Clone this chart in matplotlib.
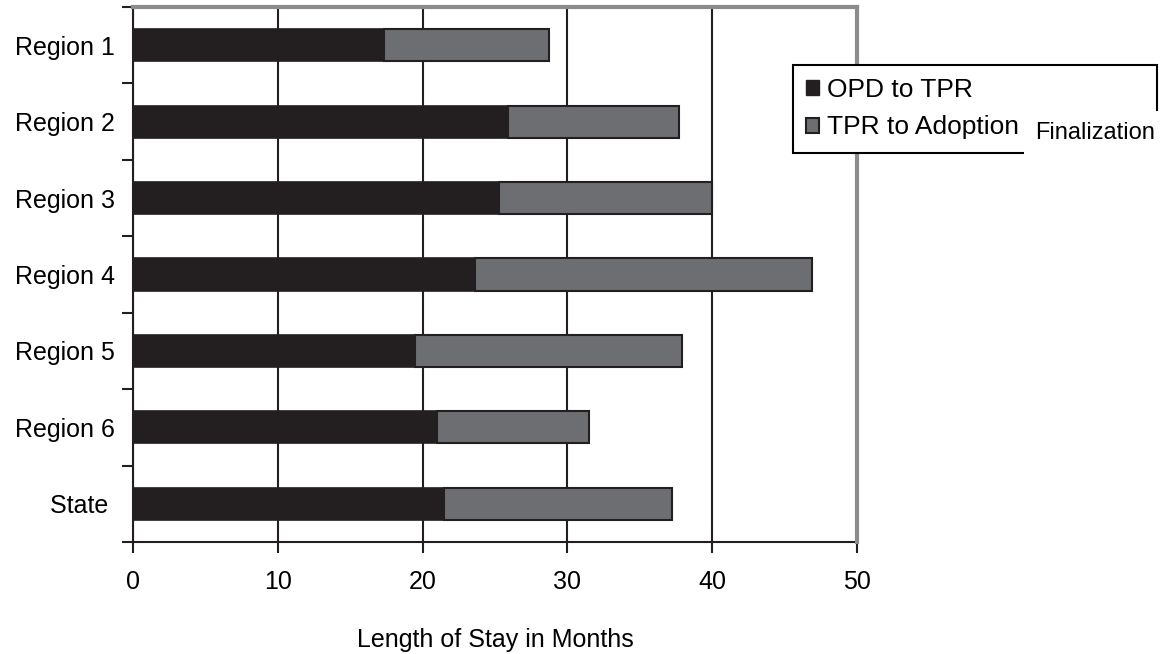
import matplotlib
matplotlib.use('Agg')
import matplotlib.pyplot as plt
from matplotlib.patches import Patch

plt.rcParams['font.family'] = ['Liberation Sans', 'DejaVu Sans']

# Data (months)
regions = ['Region 1', 'Region 2', 'Region 3', 'Region 4', 'Region 5', 'Region 6', 'State ']
opd_to_tpr = [17.3, 25.9, 25.3, 23.6, 19.5, 21.0, 21.5]
tpr_to_adoption = [11.4, 11.8, 14.7, 23.3, 18.4, 10.5, 15.7]

dark = '#231f20'
gray = '#6d6e71'

fig = plt.figure(figsize=(11.6, 6.54), dpi=100)
ax = fig.add_axes([133 / 1160, 1 - 542 / 654, (857 - 133) / 1160, (542 - 7) / 654])

y = list(range(len(regions)))
ax.barh(y, opd_to_tpr, height=0.42, color=dark, edgecolor=dark, lw=1.2, zorder=3)
ax.barh(y, tpr_to_adoption, left=opd_to_tpr, height=0.42, color=gray,
        edgecolor=dark, lw=1.5, zorder=3)

ax.set_xlim(0, 50)
ax.set_ylim(len(regions) - 0.5, -0.5)
ax.set_xticks(range(0, 51, 10))
ax.set_yticks(y)
ax.set_yticklabels(regions)
ax.set_yticks([i - 0.5 for i in range(len(regions) + 1)], minor=True)
ax.tick_params(axis='y', which='major', length=0, pad=13, labelsize=18)
ax.tick_params(axis='y', which='minor', length=8, width=1.5, color=dark)
ax.tick_params(axis='x', length=8, width=1.5, color=dark, pad=12.5, labelsize=18)

ax.grid(axis='x', color=dark, lw=1.5)
ax.set_axisbelow(True)

for s in ['left', 'bottom']:
    ax.spines[s].set_color(dark)
    ax.spines[s].set_linewidth(1.5)
for s in ['top', 'right']:
    ax.spines[s].set_color('#8c8c8c')
    ax.spines[s].set_linewidth(3)
    ax.spines[s].set_zorder(4)

ax.set_xlabel('Length of Stay in Months', fontsize=18, labelpad=24)

handles = [Patch(facecolor=dark, edgecolor=dark, label='OPD to TPR'),
           Patch(facecolor=gray, edgecolor=dark, lw=1.5, label='TPR to Adoption')]
leg = fig.legend(handles=handles, loc='upper left',
                 bbox_to_anchor=(793 / 1160, 1 - 65 / 654, (1157 - 793) / 1160, 0),
                 mode='expand', borderaxespad=0, fontsize=19, fancybox=False,
                 handlelength=0.5, handleheight=0.5, handletextpad=0.3,
                 borderpad=0.5, labelspacing=0.5, edgecolor='black', framealpha=1)
leg.get_frame().set_linewidth(1.5)

fig.text(1035 / 1160, 1 - 133 / 654, 'Finalization', fontsize=17, ha='left', va='center',
         zorder=10, bbox=dict(boxstyle='square,pad=0.45', facecolor='white', edgecolor='none'))

fig.savefig('out.png', dpi=100)
